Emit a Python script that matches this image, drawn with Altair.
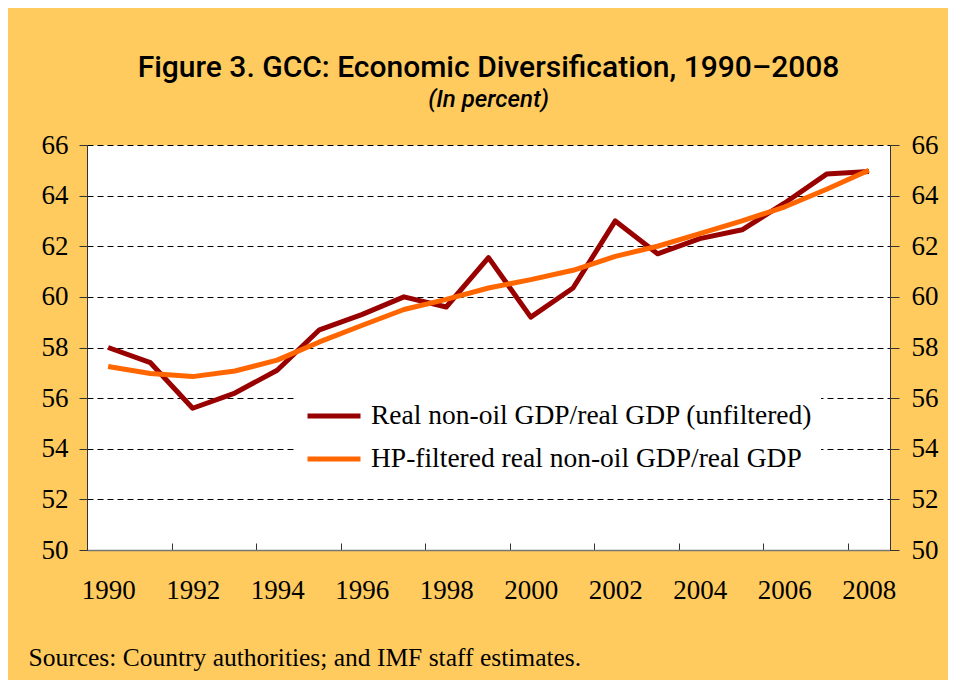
import altair as alt
import pandas as pd

years = [1990, 1991, 1992, 1993, 1994, 1995, 1996, 1997, 1998, 1999,
         2000, 2001, 2002, 2003, 2004, 2005, 2006, 2007, 2008]
unfiltered = [58.0, 57.4, 55.6, 56.2, 57.1, 58.7, 59.3, 60.0, 59.6, 61.55,
              59.2, 60.35, 63.0, 61.7, 62.3, 62.65, 63.7, 64.85, 64.95]
hp_filtered = [57.25, 56.97, 56.85, 57.07, 57.5, 58.22, 58.87, 59.5, 59.9, 60.35,
               60.68, 61.05, 61.6, 62.0, 62.5, 63.0, 63.55, 64.25, 65.0]
series_names = ["Real non-oil GDP/real GDP (unfiltered)",
                "HP-filtered real non-oil GDP/real GDP"]
series_colors = ["#990000", "#FF6600"]
y_ticks = [50, 52, 54, 56, 58, 60, 62, 64, 66]
x_label_years = [1990, 1992, 1994, 1996, 1998, 2000, 2002, 2004, 2006, 2008]
x_tick_marks = [1991.5, 1993.5, 1995.5, 1997.5, 1999.5, 2001.5, 2003.5, 2005.5, 2007.5]

rows = []
for name, vals in zip(series_names, [unfiltered, hp_filtered]):
    for yr, v in zip(years, vals):
        rows.append({"year": yr, "value": v, "series": name})
df = pd.DataFrame(rows)

SERIF = "Liberation Serif"
SANS = "Roboto"

xscale = alt.Scale(domain=[1989.5, 2008.5], nice=False, zero=False)
yscale = alt.Scale(domain=[50, 66], nice=False, zero=False)

base = alt.Chart(df)

# invisible layer carrying the right axis and the inward band ticks
helper = base.mark_line(opacity=0).encode(
    x=alt.X("year:Q", scale=xscale,
            axis=alt.Axis(orient="top", offset=-405, values=x_tick_marks,
                          labels=False, domain=False, ticks=True, tickSize=7,
                          tickColor="#333333", tickWidth=1, grid=False, title=None)),
    y=alt.Y("value:Q", scale=yscale,
            axis=alt.Axis(orient="right", values=y_ticks, grid=False,
                          tickSize=9, tickColor="#333333", domainColor="#333333",
                          labelFont=SERIF, labelFontSize=27, labelColor="black",
                          labelPadding=12, title=None)),
    detail="series:N",
)

lines = base.mark_line(strokeWidth=5, strokeJoin="round").encode(
    x=alt.X("year:Q", scale=xscale,
            axis=alt.Axis(orient="bottom", values=x_label_years, format="d",
                          ticks=False, grid=False, domainColor="#777777",
                          domainWidth=1.5,
                          labelFont=SERIF, labelFontSize=27, labelColor="black",
                          labelPadding=27,
                          title="Sources: Country authorities; and IMF staff estimates.",
                          titleFont=SERIF, titleFontSize=25.5, titleFontWeight="normal",
                          titleColor="black", titleAnchor="start", titleAlign="left",
                          titleBaseline="alphabetic", titleX=-59, titleY=115)),
    y=alt.Y("value:Q", scale=yscale,
            axis=alt.Axis(orient="left", values=y_ticks, grid=True,
                          gridDash=[6, 4], gridColor="black", gridWidth=1,
                          tickSize=8, tickColor="#333333", domainColor="#333333",
                          labelFont=SERIF, labelFontSize=27, labelColor="black",
                          labelPadding=11, title=None)),
    color=alt.Color("series:N",
                    scale=alt.Scale(domain=series_names, range=series_colors),
                    sort=series_names,
                    legend=alt.Legend(orient="none", legendX=210, legendY=234,
                                      title=None, fillColor="white",
                                      padding=8, symbolType="stroke",
                                      symbolSize=2809, symbolStrokeWidth=5,
                                      labelFont=SERIF, labelFontSize=27.5,
                                      labelColor="black", labelLimit=700,
                                      labelOffset=8, rowPadding=-3)),
)

chart = alt.layer(helper, lines).resolve_axis(x="independent", y="independent").properties(
    width=803,
    height=405,
    autosize=alt.AutoSizeParams(type="none"),
    padding={"left": 79, "top": 137, "right": 58, "bottom": 130},
    background="#FFCB5E",
    title=alt.TitleParams(
        text="Figure 3. GCC: Economic Diversification, 1990–2008",
        subtitle="(In percent)",
        anchor="middle", frame="group",
        font=SANS, fontSize=30, fontWeight=500, color="black",
        subtitleFont=SANS, subtitleFontSize=24, subtitleFontStyle="italic",
        subtitleFontWeight=500, subtitleColor="black", subtitlePadding=5,
        offset=19,
    ),
).configure_view(fill="white", stroke="transparent")

chart.save("out.html", embed_options={"renderer": "svg", "actions": False})
